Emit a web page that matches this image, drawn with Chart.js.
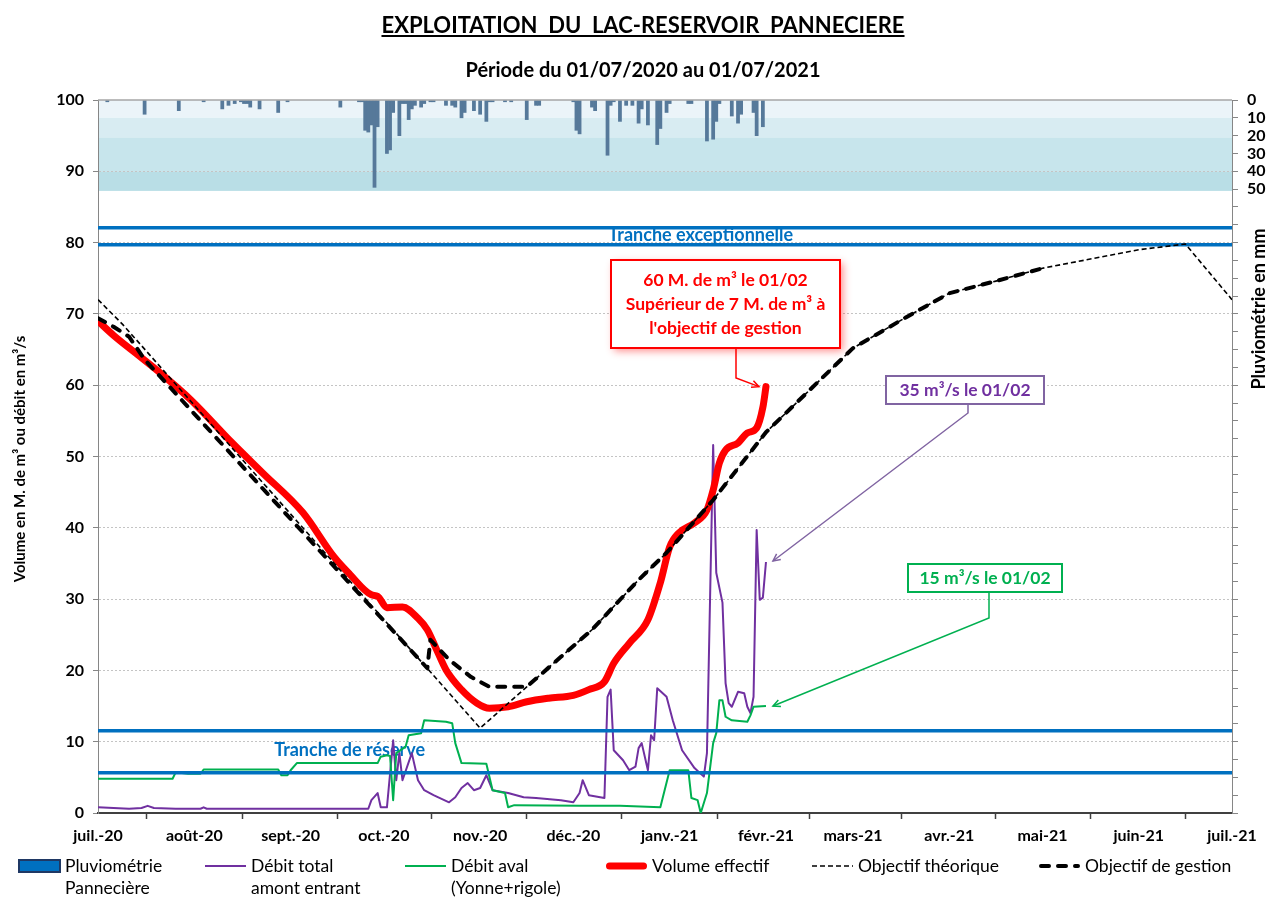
<!DOCTYPE html>
<html lang="fr">
<head>
<meta charset="utf-8">
<title>Exploitation du lac-réservoir Pannecière</title>
<script src="https://cdn.jsdelivr.net/npm/chart.js@4.4.1/dist/chart.umd.min.js"></script>
<style>
  html, body { margin: 0; padding: 0; background: #fff; overflow: hidden; }
  body { font-family: Lato, "Open Sans", sans-serif; color: #000; }
  #wrap { position: relative; width: 1269px; height: 900px; }
  #chart { position: absolute; left: 0; top: 0; }
  .titre { position: absolute; left: 643px; transform: translateX(-50%); white-space: pre; font-weight: bold; }
  #titre { top: 11px; font-size: 22px; text-decoration: underline; }
  #sous-titre { top: 57px; font-size: 20px; }
  #legende .item { position: absolute; top: 855px; display: flex; align-items: flex-start; font-size: 17.5px; line-height: 22px; white-space: pre; }
  #legende svg { display: block; margin-right: 4px; }
</style>
</head>
<body>
<div id="wrap">
  <canvas id="chart" width="1269" height="900"></canvas>
  <div id="titre" class="titre">EXPLOITATION  DU  LAC-RESERVOIR  PANNECIERE</div>
  <div id="sous-titre" class="titre">Période du 01/07/2020 au 01/07/2021</div>
  <div id="legende"></div>
</div>
<script>
// Panneciere - exploitation 01/07/2020 -> 01/07/2021 (jours depuis le 01/07/2020)
const moisJours = [0, 31, 62, 92, 123, 153, 184, 215, 243, 274, 304, 335, 365];
const moisLabels = ['juil.-20', 'août-20', 'sept.-20', 'oct.-20', 'nov.-20', 'déc.-20', 'janv.-21',
    'févr.-21', 'mars-21', 'avr.-21', 'mai-21', 'juin-21', 'juil.-21'];

// pluviometrie journaliere (mm)
const pluieJours = [3, 15, 26, 34, 40, 42, 44, 46, 47, 48, 49, 52, 58, 61, 78, 84, 85, 86, 87, 88, 89, 90,
    93, 94, 95, 97, 98, 99, 100, 101, 102, 104, 105, 107, 108, 112, 114, 115, 117, 118, 121, 123, 125, 126,
    127, 131, 133, 138, 141, 142, 153, 154, 155, 159, 160, 164, 165, 166, 168, 170, 172, 174, 175, 177, 180,
    181, 183, 184, 190, 191, 196, 198, 199, 200, 204, 206, 207, 211, 212, 214];
const pluieMm = [1, 8, 6, 1, 5, 3, 2, 1, 2, 2, 4, 5, 7, 1, 4, 1, 1, 17, 18, 14, 49, 15,
    30, 28, 7, 20, 2, 2, 11, 5, 3, 4, 2, 1, 1, 3, 3, 4, 10, 7, 6, 8, 12, 1,
    1, 1, 1, 11, 3, 3, 1, 17, 19, 4, 6, 31, 3, 1, 12, 3, 3, 13, 5, 14, 25,
    16, 7, 2, 2, 2, 23, 22, 12, 2, 9, 13, 8, 7, 20, 15];

// debit total amont entrant (m3/s)
const entrantJours = [0, 5, 10, 14, 16, 18, 25, 33, 34, 35, 60, 87, 88, 90, 91, 93, 95, 96, 97, 98, 101, 103,
    105, 108, 113, 115, 117, 119, 121, 123, 125, 127, 132, 137, 141, 149, 153, 155, 156, 158, 163, 164, 165,
    166, 169, 171, 173, 174, 175, 177, 178, 179, 180, 183, 185, 188, 192, 195, 196, 198, 199, 201, 202, 203,
    204, 206, 208, 209, 210, 211, 212, 213, 214, 215];
const entrantM3s = [0.8, 0.7, 0.6, 0.7, 1.0, 0.7, 0.6, 0.6, 0.8, 0.6, 0.6, 0.6, 1.8, 2.8, 0.8, 0.8, 10.2, 4.6, 8.4, 4.6, 8.4, 4.6,
    3.2, 2.5, 1.5, 2.2, 3.5, 4.2, 3.2, 3.5, 5.3, 3.2, 2.8, 2.2, 2.1, 1.8, 1.5, 2.8, 4.6, 2.5, 2.1, 16.3, 17.3,
    8.8, 7.4, 6.0, 6.5, 9.1, 9.8, 6.0, 10.9, 10.2, 17.5, 16.3, 13.0, 8.8, 6.3, 5.1, 8.4, 51.6, 33.7, 29.5, 18.2, 15.4,
    14.9, 17.0, 16.8, 14.9, 14.0, 16.3, 39.7, 29.9, 30.2, 35.2];

// debit aval Yonne + rigole (m3/s)
const avalJours = [0, 24, 25, 29, 33, 34, 58, 59, 61, 62, 64, 90, 91, 93, 94, 95, 96, 99, 100, 104, 105, 112,
    114, 115, 117, 125, 127, 131, 132, 134, 155, 168, 181, 184, 190, 191, 193, 194, 196, 198, 199, 200, 201,
    202, 204, 209, 210, 211, 215];
const avalM3s = [4.8, 4.8, 5.7, 5.5, 5.5, 6.1, 6.1, 5.3, 5.3, 6.0, 7.0, 7.0, 7.9, 8.1, 8.0, 1.8, 8.4, 9.3, 10.9, 11.2, 13.0, 12.8,
    12.6, 9.8, 7.0, 6.9, 3.2, 2.8, 0.8, 1.1, 1.0, 1.0, 0.8, 6.0, 6.0, 2.1, 1.8, 0.0, 2.8, 9.8, 11.2, 15.8, 15.8,
    13.5, 13.0, 12.8, 13.7, 14.9, 15.0];

// volume effectif (M. de m3)
const volumeJours = [0, 5, 13, 19, 30, 43, 53, 66, 76, 81, 88, 90, 93, 98, 103, 106, 109, 112, 117, 122, 126,
    132, 138, 145, 153, 158, 163, 166, 171, 177, 181, 184, 187, 192, 196, 198, 200, 202, 206, 209, 212, 214, 215];
const volumeM3 = [69.0, 67.0, 64.2, 62.1, 57.9, 52.0, 47.7, 42.1, 35.9, 33.5, 30.6, 30.4, 28.8, 28.9, 27.3, 25.7, 22.9,
    20.1, 17.3, 15.4, 14.7, 14.9, 15.6, 16.1, 16.5, 17.3, 18.4, 21.0, 23.8, 27.1, 32.3, 37.3, 39.3, 40.7, 42.5,
    45.3, 49.1, 50.9, 51.9, 53.3, 54.0, 56.9, 59.8];

// objectif theorique et objectif de gestion (M. de m3)
const theoJours = [0, 8, 123, 138, 149, 159, 174, 183, 198, 215, 243, 260, 274, 289, 304, 335, 350, 365];
const theoM3 = [72.0, 68.5, 11.9, 17.7, 21.9, 25.7, 32.7, 36.5, 43.9, 53.4, 65.2, 69.5, 72.9, 74.6, 76.4, 79.0, 79.8, 72.0];
const gestionJours = [0, 5, 10, 15, 106, 107, 113, 120, 126, 138, 149, 159, 174, 183, 198, 215, 243, 260, 274, 289, 304];
const gestionM3 = [69.4, 68.2, 66.8, 63.6, 20.3, 24.3, 21.5, 19.1, 17.7, 17.7, 21.9, 25.7, 32.7, 36.5, 43.9, 53.4,
    65.2, 69.5, 72.9, 74.6, 76.4];

// limites des tranches (M. de m3)
const tranchesNiveaux = [82.1, 79.7, 11.55, 5.65];

const serie = (jours, vals) => jours.map((j, i) => ({ x: j, y: vals[i] }));

Chart.defaults.font.family = 'Lato, "Open Sans", sans-serif';
Chart.defaults.color = '#000';

// bandes de fond de la zone pluvio (mm)
const bandes = [
    { de: 0, a: 10, couleur: '#ebf4f9' },
    { de: 10, a: 21, couleur: '#d8ecf2' },
    { de: 21, a: 40, couleur: '#c7e5ec' },
    { de: 40, a: 51, couleur: '#b9dee6' }
];

const fondPluie = {
    id: 'fondPluie',
    beforeDraw(chart) {
        const { ctx, chartArea: a, scales } = chart;
        ctx.save();
        bandes.forEach(b => {
            const y1 = scales.y2.getPixelForValue(b.de);
            const y2 = scales.y2.getPixelForValue(b.a);
            ctx.fillStyle = b.couleur;
            ctx.fillRect(a.left, y1, a.right - a.left, y2 - y1);
        });
        ctx.restore();
    }
};

const textesTranches = {
    id: 'textesTranches',
    beforeDatasetsDraw(chart) {
        const { ctx, scales: { x, y } } = chart;
        ctx.save();
        ctx.font = 'bold 18px Lato';
        ctx.fillStyle = '#0070c0';
        ctx.textAlign = 'center';
        ctx.textBaseline = 'middle';
        ctx.fillText('Tranche exceptionnelle', x.getPixelForValue(194), y.getPixelForValue(81));
        ctx.fillText('Tranche de réserve', x.getPixelForValue(81), y.getPixelForValue(8.8));
        ctx.restore();
    }
};

const bulles = [
    { lignes: ['60 M. de m³ le 01/02', 'Supérieur de 7 M. de m³ à', "l'objectif de gestion"],
      texte: '#ff0000', bord: '#ff0000', cadre: [611, 260, 229, 88], coude: [736, 378], serie: 3, dx: -7, dy: 0, ombre: true },
    { lignes: ['35 m³/s le 01/02'], texte: '#7030a0', bord: '#8064a2', cadre: [886, 376, 158, 28], coude: [968, 413], serie: 1, dx: 7, dy: -1 },
    { lignes: ['15 m³/s le 01/02'], texte: '#00b050', bord: '#00b050', cadre: [908, 564, 154, 28], coude: [989, 618], serie: 2, dx: 7, dy: 0 }
];

function fleche(ctx, x1, y1, x2, y2) {
    const ang = Math.atan2(y2 - y1, x2 - x1), l = 8;
    ctx.beginPath();
    ctx.moveTo(x2 - l * Math.cos(ang - 0.45), y2 - l * Math.sin(ang - 0.45));
    ctx.lineTo(x2, y2);
    ctx.lineTo(x2 - l * Math.cos(ang + 0.45), y2 - l * Math.sin(ang + 0.45));
    ctx.stroke();
}

const annotations = {
    id: 'annotations',
    afterDraw(chart) {
        const { ctx, chartArea: a } = chart;
        ctx.save();
        // bord haut de la zone de trace
        ctx.strokeStyle = '#a6a6a6';
        ctx.lineWidth = 1.5;
        ctx.beginPath();
        ctx.moveTo(a.left, a.top);
        ctx.lineTo(a.right, a.top);
        ctx.stroke();

        bulles.forEach(b => {
            const [bx, by, bw, bh] = b.cadre;
            const pts = chart.getDatasetMeta(b.serie).data;
            const fin = pts[pts.length - 1];
            const tx = fin.x + b.dx, ty = fin.y + b.dy;
            ctx.save();
            if (b.ombre) {
                ctx.shadowColor = 'rgba(255, 0, 0, 0.45)';
                ctx.shadowBlur = 8;
                ctx.shadowOffsetX = 3;
                ctx.shadowOffsetY = 3;
            }
            ctx.fillStyle = '#fff';
            ctx.fillRect(bx, by, bw, bh);
            ctx.restore();
            ctx.strokeStyle = b.bord;
            ctx.lineWidth = 2;
            ctx.strokeRect(bx, by, bw, bh);

            ctx.fillStyle = b.texte;
            ctx.font = 'bold 17.5px Lato';
            ctx.textAlign = 'center';
            ctx.textBaseline = 'middle';
            const pas = 24;
            const y0 = by + bh / 2 - (b.lignes.length - 1) * pas / 2;
            b.lignes.forEach((t, i) => ctx.fillText(t, bx + bw / 2, y0 + i * pas));

            ctx.lineWidth = 1.5;
            ctx.beginPath();
            ctx.moveTo(b.coude[0], by + bh);
            ctx.lineTo(b.coude[0], b.coude[1]);
            ctx.lineTo(tx, ty);
            ctx.stroke();
            fleche(ctx, b.coude[0], b.coude[1], tx, ty);
        });
        ctx.restore();
    }
};

const positionsLegende = [18, 204, 404, 605, 811, 1038];

function pastille(ds) {
    if (ds.type === 'bar') {
        return '<svg width="43" height="22"><rect x="1" y="5" width="41" height="12" fill="#0070c0" stroke="#1f3864" stroke-width="2"/></svg>';
    }
    const dash = ds.borderDash ? ' stroke-dasharray="' + ds.borderDash.join(',') + '"' : '';
    const cap = ds.borderCapStyle || 'butt';
    const m = cap === 'round' ? ds.borderWidth / 2 + 1 : 1;
    return '<svg width="43" height="22"><line x1="' + m + '" y1="11" x2="' + (43 - m) + '" y2="11" stroke="' + ds.borderColor +
        '" stroke-width="' + ds.borderWidth + '" stroke-linecap="' + cap + '"' + dash + '/></svg>';
}

const legendeHtml = {
    id: 'legendeHtml',
    afterUpdate(chart) {
        const box = document.getElementById('legende');
        box.innerHTML = '';
        chart.data.datasets.forEach(ds => {
            if (ds.legende === undefined) return;
            const item = document.createElement('div');
            item.className = 'item';
            item.style.left = positionsLegende[ds.legende] + 'px';
            item.innerHTML = pastille(ds) + '<span>' + ds.label + '</span>';
            box.appendChild(item);
        });
    }
};

// titres des axes verticaux, places comme sur l'original
const titresAxes = {
    id: 'titresAxes',
    afterDraw(chart) {
        const ctx = chart.ctx;
        const titre = (txt, x, y, taille) => {
            ctx.save();
            ctx.translate(x, y);
            ctx.rotate(-Math.PI / 2);
            ctx.font = 'bold ' + taille + 'px Lato';
            ctx.fillStyle = '#000';
            ctx.textAlign = 'center';
            ctx.textBaseline = 'middle';
            ctx.fillText(txt, 0, 0);
            ctx.restore();
        };
        titre('Volume en M. de m³ ou débit en m³/s', 20, 459, 15);
        titre('Pluviométrie en mm', 1259, 309, 18);
    }
};

const datasets = [
    { type: 'bar', label: 'Pluviométrie\nPannecière', data: serie(pluieJours, pluieMm), yAxisID: 'y2',
      backgroundColor: '#56799a', barPercentage: 1, categoryPercentage: 1, order: 8, legende: 0 },
    { label: 'Débit total\namont entrant', data: serie(entrantJours, entrantM3s), borderColor: '#7030a0',
      borderWidth: 2, order: 6, legende: 1 },
    { label: 'Débit aval\n(Yonne+rigole)', data: serie(avalJours, avalM3s), borderColor: '#00b050',
      borderWidth: 2, order: 5, legende: 2 },
    { label: 'Volume effectif', data: serie(volumeJours, volumeM3), borderColor: '#ff0000', borderWidth: 7,
      borderCapStyle: 'round', cubicInterpolationMode: 'monotone', order: 3, legende: 3 },
    { label: 'Objectif théorique', data: serie(theoJours, theoM3), borderColor: '#000', borderWidth: 1.6,
      borderDash: [5, 3], order: 2, legende: 4 },
    { label: 'Objectif de gestion', data: serie(gestionJours, gestionM3), borderColor: '#000', borderWidth: 4,
      borderDash: [8, 9], borderCapStyle: 'round', order: 1, legende: 5 }
];
tranchesNiveaux.forEach(v => datasets.push({
    label: 'tranche', data: [{ x: 0, y: v }, { x: 365, y: v }], borderColor: '#0070c0', borderWidth: 3.5, order: 4
}));

new Chart(document.getElementById('chart'), {
    type: 'line',
    data: { datasets },
    options: {
        responsive: false,
        animation: false,
        devicePixelRatio: 1,
        layout: { padding: { top: 100, bottom: 47, left: 0, right: 0 } },
        plugins: { legend: { display: false }, tooltip: { enabled: false } },
        elements: { point: { radius: 0 }, line: { borderJoinStyle: 'round', fill: false } },
        scales: {
            x: {
                type: 'linear', min: 0, max: 365, offset: false,
                afterBuildTicks: s => { s.ticks = moisJours.map(v => ({ value: v })); },
                ticks: {
                    callback: v => moisLabels[moisJours.indexOf(v)],
                    font: { size: 16, weight: 'bold' }, padding: 7, maxRotation: 0, autoSkip: false
                },
                grid: { drawOnChartArea: false, tickLength: 6, tickColor: '#404040', tickWidth: 1.5 },
                border: { color: '#404040', width: 2 },
                afterFit: s => { s.height = 40; }
            },
            y: {
                position: 'left', min: 0, max: 100,
                afterBuildTicks: s => { s.ticks = [0, 10, 20, 30, 40, 50, 60, 70, 80, 90, 100].map(v => ({ value: v })); },
                ticks: { font: { size: 16, weight: 'bold' }, padding: 9 },
                grid: { color: c => c.tick && c.tick.value === 100 ? 'rgba(0,0,0,0)' : '#c4c4c4',
                        tickColor: '#868686', tickLength: 5 },
                border: { color: '#868686', width: 1, dash: [2, 2] },
                afterFit: s => { s.width = 98; }
            },
            y2: {
                position: 'right', reverse: true, min: 0, max: 400,
                afterBuildTicks: s => {
                    const t = [];
                    for (let v = 0; v <= 400; v += 10) t.push({ value: v });
                    s.ticks = t;
                },
                ticks: { callback: v => (v <= 50 ? v : ''), font: { size: 16, weight: 'bold' }, padding: 9, autoSkip: false },
                grid: { drawOnChartArea: false, tickColor: '#868686', tickLength: 6 },
                border: { color: '#868686', width: 1 },
                afterFit: s => { s.width = 37; }
            }
        }
    },
    plugins: [fondPluie, textesTranches, annotations, legendeHtml, titresAxes]
});
</script>
</body>
</html>
